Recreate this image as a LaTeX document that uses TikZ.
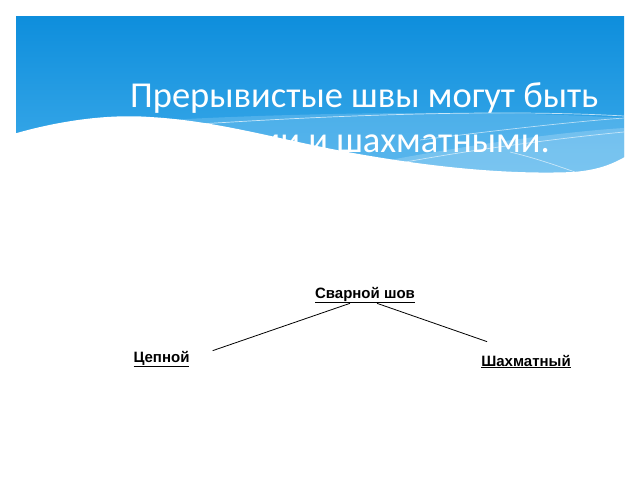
\documentclass[tikz,border=0pt]{standalone}
\usepackage{fontspec}
\setmainfont{Carlito}
\newfontfamily\labelfont{Liberation Sans}
\definecolor{bantop}{RGB}{14,142,220}
\definecolor{banbot}{RGB}{70,176,236}
\definecolor{bandlight}{RGB}{140,205,245}
\tikzset{
  titletext/.style={text=white,font=\fontsize{36.5}{44}\selectfont,inner sep=0pt,anchor=base west},
  seamlabel/.style={font=\labelfont\bfseries\fontsize{15}{18}\selectfont,inner sep=0pt,anchor=base},
  seamline/.style={draw=black,line width=0.8pt}
}
\begin{document}
\begin{tikzpicture}[x=1pt,y=-1pt]
\useasboundingbox (0,0) rectangle (640,480);
\fill[white] (0,0) rectangle (640,480);
% banner
\shade[top color=bantop,bottom color=banbot] (16,16) rectangle (624,200);
% lighter bands
\fill[bandlight,opacity=0.35] (150,121) .. controls (300,112) and (500,110) .. (624,118) -- (624,200) -- (150,200) -- cycle;
\fill[white,opacity=0.2] (390,160) .. controls (470,145) and (560,132) .. (624,128) -- (624,200) -- (390,200) -- cycle;
\draw[white,opacity=0.7,line width=0.7pt] (200,124) .. controls (370,113) and (520,110) .. (624,116);
\draw[white,opacity=0.6,line width=0.7pt] (420,140) .. controls (500,130) and (570,122) .. (624,118);
\draw[white,opacity=0.6,line width=0.7pt] (400,163) .. controls (470,150) and (560,138) .. (624,132);
\draw[white,opacity=0.6,line width=0.7pt] (510,152) .. controls (535,158) and (555,165) .. (575,172);
% white wave
\fill[white] (10,135) .. controls (60,120) and (110,114) .. (150,117) .. controls (220,121) and (280,140) .. (353,153) .. controls (420,165) and (500,175) .. (573,172) .. controls (600,170) and (615,163) .. (630,154) -- (630,240) -- (10,240) -- cycle;
% title
\node[titletext] (title1) at (130,107) {Прерывистые швы могут быть};
\node[titletext] (title2) at (155,152) {цепными и шахматными.};
% diagram
\node[seamlabel] (sv) at (365,298) {\underline{Сварной шов}};
\node[seamlabel] (cep) at (161.5,362) {\underline{Цепной}};
\node[seamlabel] (sh) at (526,366) {\underline{Шахматный}};
\draw[seamline] ([xshift=-15pt]sv.south) -- ([xshift=23pt]cep.north east);
\draw[seamline] ([xshift=12pt]sv.south) -- ([xshift=6pt,yshift=13pt]sh.north west);
\end{tikzpicture}
\end{document}
